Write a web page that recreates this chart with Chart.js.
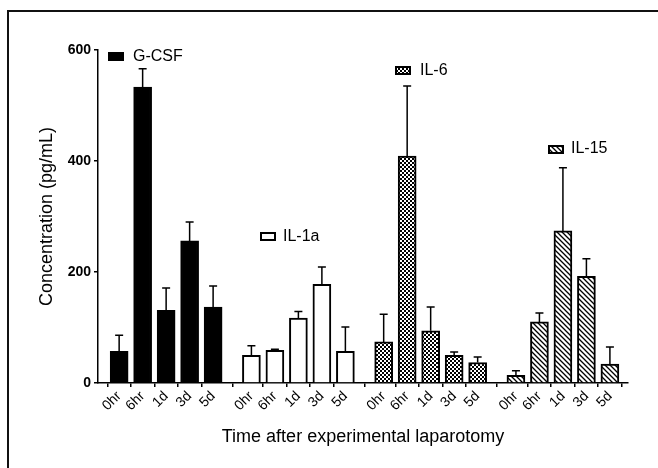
<!DOCTYPE html>
<html lang="en">
<head>
<meta charset="UTF-8">
<title>Cytokines after experimental laparotomy</title>
<script src="https://cdn.jsdelivr.net/npm/chart.js@4.4.0/dist/chart.umd.min.js"></script>
<style>
  body { margin: 0; background: #fff; }
  #wrap { width: 658px; height: 468px; }
</style>
</head>
<body>
<div id="wrap"><canvas id="cytoChart" width="658" height="468"></canvas></div>
<script>
// data
const timepoints = ['0hr', '6hr', '1d', '3d', '5d'];
const cytokines = ['G-CSF', 'IL-1a', 'IL-6', 'IL-15'];
const gcsfMean = [57, 533, 131, 256, 137];
const gcsfErr  = [29, 33, 40, 34, 38];
const il1aMean = [50, 59, 117, 178, 57];
const il1aErr  = [17, 2, 12, 31, 44];
const il6Mean  = [74, 409, 94, 50, 37];
const il6Err   = [50, 126, 43, 6, 10];
const il15Mean = [14, 110, 274, 192, 34];
const il15Err  = [8, 16, 114, 32, 31];
const yTicks = [0, 200, 400, 600];

const means = [gcsfMean, il1aMean, il6Mean, il15Mean];
const errs = [gcsfErr, il1aErr, il6Err, il15Err];

const FONT = "'Liberation Sans', Arial, sans-serif";
const GROUP_STEP = 5.63;   // distance between group starts, in bar slots

const canvas = document.getElementById('cytoChart');
const ctx = canvas.getContext('2d');

function checker() {
    const c = document.createElement('canvas');
    c.width = c.height = 4;
    const g = c.getContext('2d');
    g.fillStyle = '#000';
    g.fillRect(0, 0, 4, 4);
    g.fillStyle = '#fff';
    g.fillRect(0, 0, 2, 2);
    g.fillRect(2, 2, 2, 2);
    return ctx.createPattern(c, 'repeat');
}

function hatch() {
    const s = 5;
    const c = document.createElement('canvas');
    c.width = c.height = s;
    const g = c.getContext('2d');
    g.fillStyle = '#fff';
    g.fillRect(0, 0, s, s);
    g.strokeStyle = '#000';
    g.lineWidth = 1.3;
    g.beginPath();
    g.moveTo(-1, -1); g.lineTo(s + 1, s + 1);
    g.moveTo(s - 1, -1); g.lineTo(s + 1, 1);
    g.moveTo(-1, s - 1); g.lineTo(1, s + 1);
    g.stroke();
    return ctx.createPattern(c, 'repeat');
}

const fills = ['#000', '#fff', checker(), hatch()];

// bar positions on the x axis, one slot per time point
const xPos = [];
cytokines.forEach((c, g) => timepoints.forEach((t, i) => xPos.push(g * GROUP_STEP + i)));

const datasets = cytokines.map((name, g) => ({
    label: name,
    data: means[g].map((v, i) => ({ x: g * GROUP_STEP + i, y: v })),
    backgroundColor: fills[g],
    borderColor: '#000',
    borderWidth: 2,
    barThickness: 18,
    grouped: false
}));

// legend boxes placed next to each group, as in the figure
const legendSpots = [
    { box: [108, 52], text: [133, 57] },
    { box: [260, 232], text: [283, 237] },
    { box: [395, 66], text: [420, 71] },
    { box: [548, 145], text: [571, 149] }
];

const extras = {
    id: 'extras',
    beforeDraw(chart) {
        const c = chart.ctx;
        c.save();
        c.fillStyle = '#fff';
        c.fillRect(0, 0, chart.width, chart.height);
        c.strokeStyle = '#111';
        c.lineWidth = 2;
        c.beginPath();
        c.moveTo(8, chart.height);
        c.lineTo(8, 11);
        c.lineTo(chart.width, 11);
        c.stroke();
        c.restore();
    },
    afterDatasetsDraw(chart) {
        const c = chart.ctx;
        const yScale = chart.scales.y;
        c.save();
        c.strokeStyle = '#000';
        c.lineWidth = 1.5;
        chart.data.datasets.forEach((ds, g) => {
            chart.getDatasetMeta(g).data.forEach((bar, i) => {
                const top = yScale.getPixelForValue(means[g][i] + errs[g][i]);
                c.beginPath();
                c.moveTo(bar.x, bar.y);
                c.lineTo(bar.x, top);
                c.moveTo(bar.x - 4, top);
                c.lineTo(bar.x + 4, top);
                c.stroke();
            });
        });
        // legend items
        c.font = '16px ' + FONT;
        c.textBaseline = 'middle';
        c.textAlign = 'left';
        legendSpots.forEach((spot, g) => {
            const [bx, by] = spot.box;
            c.fillStyle = fills[g];
            c.fillRect(bx, by, 16, 9);
            c.lineWidth = 2;
            c.strokeRect(bx + 1, by + 1, 14, 7);
            c.fillStyle = '#000';
            c.fillText(cytokines[g], spot.text[0], spot.text[1]);
        });
        c.restore();
    }
};

new Chart(canvas, {
    type: 'bar',
    data: { datasets },
    options: {
        responsive: false,
        animation: false,
        layout: { padding: { top: 50, right: 30, left: 0, bottom: 0 } },
        plugins: { legend: { display: false }, tooltip: { enabled: false } },
        scales: {
            x: {
                type: 'linear',
                offset: false,
                min: -0.9,
                max: 3 * GROUP_STEP + 4 + 0.77,
                afterBuildTicks: s => { s.ticks = xPos.map(v => ({ value: v })); },
                afterFit: s => { s.height = 85; },
                ticks: {
                    autoSkip: false,
                    minRotation: 45,
                    maxRotation: 45,
                    padding: 1,
                    color: '#000',
                    font: { family: FONT, size: 14 },
                    callback: (v, i) => timepoints[i % timepoints.length]
                },
                grid: { display: true, drawOnChartArea: false, tickLength: 4, color: '#000', lineWidth: 1.5 },
                border: { display: true, color: '#000', width: 1.5 },
                title: {
                    display: true,
                    text: 'Time after experimental laparotomy',
                    color: '#000',
                    font: { family: FONT, size: 18 },
                    padding: { top: 0, bottom: 20 }
                }
            },
            y: {
                min: 0,
                max: 600,
                afterBuildTicks: s => { s.ticks = yTicks.map(v => ({ value: v })); },
                afterFit: s => { s.width = 98; },
                ticks: {
                    padding: 3,
                    color: '#000',
                    font: { family: FONT, size: 14, weight: 'bold' }
                },
                grid: { display: true, drawOnChartArea: false, tickLength: 4, color: '#000', lineWidth: 1.5 },
                border: { display: true, color: '#000', width: 1.5 },
                title: {
                    display: true,
                    text: 'Concentration (pg/mL)',
                    color: '#000',
                    font: { family: FONT, size: 18 },
                    padding: { top: 36, bottom: 0 }
                }
            }
        }
    },
    plugins: [extras]
});
</script>
</body>
</html>
